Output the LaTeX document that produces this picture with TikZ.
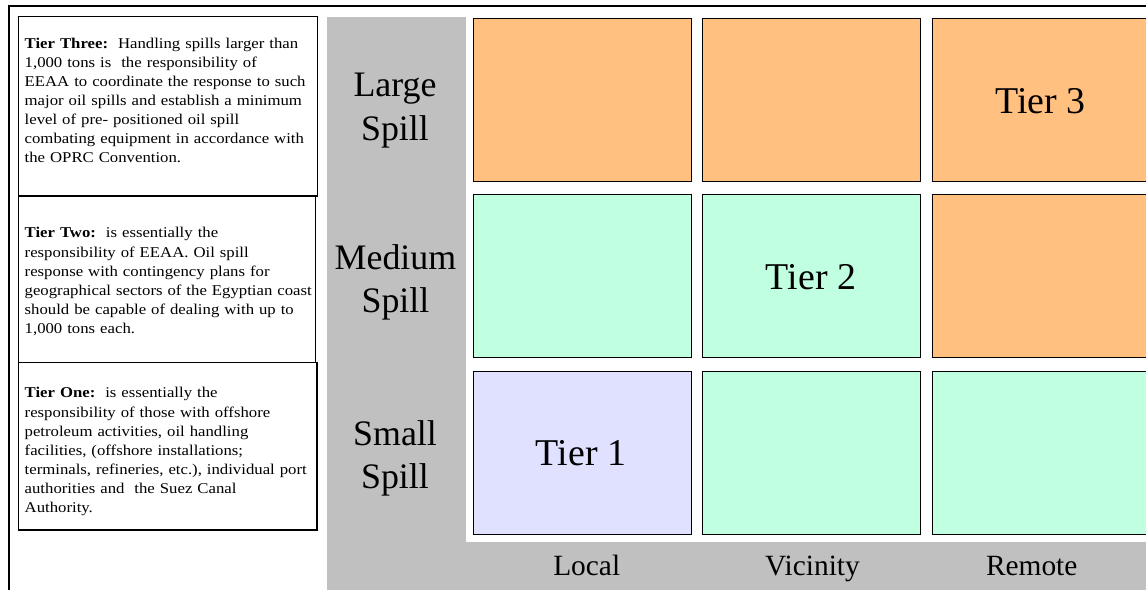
\documentclass[tikz,border=0pt]{standalone}
\usepackage{fontspec}
\setmainfont{Liberation Serif}
\newfontfamily\boxfont[FakeStretch=1.12]{Liberation Serif}
\definecolor{tierorange}{HTML}{FFC080}
\definecolor{tiergreen}{HTML}{C0FFE0}
\definecolor{tierblue}{HTML}{E0E0FF}
\definecolor{panelgrey}{HTML}{C0C0C0}
\begin{document}
\begin{tikzpicture}[x=1bp,y=-1bp,
  cell/.style={draw=black,line width=1.1bp,minimum width=218.5bp,minimum height=163bp,inner sep=0pt,anchor=north west},
  tbox/.style={draw=black,line width=1.6bp,inner sep=0pt},
  btext/.style={anchor=north west,inner sep=0pt,text width=300bp,align=left,font=\boxfont\fontsize{15}{19.2}\selectfont},
  tierlabel/.style={anchor=base,inner sep=0pt,font=\fontsize{38}{40}\selectfont},
  rowlabel/.style={inner sep=0pt,align=center,font=\fontsize{36}{43.5}\selectfont},
  collabel/.style={anchor=base,inner sep=0pt,font=\fontsize{29.5}{32}\selectfont}]
\useasboundingbox (0,0) rectangle (1146,590);
\clip (0,0) rectangle (1146,590);
% outer frame
\draw[line width=2bp] (9,592) -- (9,6) -- (1148,6);
% grey panel and white matrix area
\fill[panelgrey] (326.7,16.7) rectangle (1150,592);
\fill[white] (465.7,12) rectangle (1150,541.7);
% text boxes
\node[tbox,minimum width=298.6bp,minimum height=179.3bp] (b1) at (168,106.3) {};
\node[tbox,minimum width=296.8bp,minimum height=166.3bp] (b2) at (167.1,279.2) {};
\node[tbox,minimum width=298bp,minimum height=167.7bp] (b3) at (167.7,446.2) {};
\node[btext] (t1) at (24.5,34.6) {\strut\textbf{Tier Three:}\ \ Handling spills larger than\\
1,000 tons is\ \ the responsibility of\\
EEAA to coordinate the response to such\\
major oil spills and establish a minimum\\
level of pre- positioned oil spill\\
combating equipment in accordance with\\
the OPRC Convention.};
\node[btext] (t2) at (24.5,224.3) {\strut\textbf{Tier Two:}\ \ is essentially the\\
responsibility of EEAA. Oil spill\\
response with contingency plans for\\
geographical sectors of the Egyptian coast\\
should be capable of dealing with up to\\
1,000 tons each.};
\node[btext] (t3) at (24.5,384.3) {\strut\textbf{Tier One:}\ \ is essentially the\\
responsibility of those with offshore\\
petroleum activities, oil handling\\
facilities, (offshore installations;\\
terminals, refineries, etc.), individual port\\
authorities and\ \ the Suez Canal\\
Authority.};
% matrix cells
\node[cell,fill=tierorange] (c13) at (472.7,18.3) {};
\node[cell,fill=tierorange] (c23) at (701.7,18.3) {};
\node[cell,fill=tierorange] (c33) at (932.3,18.3) {};
\node[cell,fill=tiergreen] (c12) at (472.7,194) {};
\node[cell,fill=tiergreen] (c22) at (701.7,194) {};
\node[cell,fill=tierorange] (c32) at (932.3,194) {};
\node[cell,fill=tierblue] (c11) at (472.7,371) {};
\node[cell,fill=tiergreen] (c21) at (701.7,371) {};
\node[cell,fill=tiergreen] (c31) at (932.3,371) {};
% tier labels
\node[tierlabel] (tier3) at (1040.5,114) {Tier 3};
\node[tierlabel] (tier2) at (811,290) {Tier 2};
\node[tierlabel] (tier1) at (581,465) {Tier 1};
% row labels
\node[rowlabel] (large) at (395,110.5) {Large\\Spill};
\node[rowlabel] (medium) at (395.5,282.7) {Medium\\Spill};
\node[rowlabel] (small) at (395,458.4) {Small\\Spill};
% column labels
\node[collabel] (local) at (586.7,575) {Local};
\node[collabel] (vicinity) at (812.5,575) {Vicinity};
\node[collabel] (remote) at (1031.7,575) {Remote};
\end{tikzpicture}
\end{document}
